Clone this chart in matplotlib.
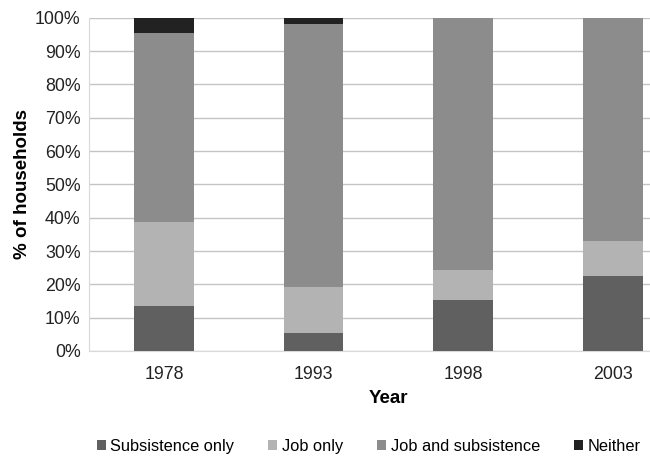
import matplotlib
matplotlib.use("Agg")
import matplotlib.pyplot as plt
import numpy as np

plt.rcParams['font.family'] = ['Liberation Sans', 'DejaVu Sans']

years = ['1978', '1993', '1998', '2003']
subsistence_only = [13.6, 5.5, 15.3, 22.6]
job_only = [25.0, 13.6, 9.0, 10.5]
job_and_subsistence = [56.8, 78.9, 75.7, 66.9]
neither = [4.6, 2.0, 0.0, 0.0]

series = [
    ('Subsistence only', subsistence_only, '#606060'),
    ('Job only', job_only, '#b3b3b3'),
    ('Job and subsistence', job_and_subsistence, '#8c8c8c'),
    ('Neither', neither, '#222222'),
]

fig = plt.figure(figsize=(6.5, 4.57), dpi=100)
ax = fig.add_axes([0.137, 0.232, 0.921, 0.729])

x = np.arange(len(years))
bottom = np.zeros(len(years))
for name, vals, col in series:
    ax.bar(x, vals, width=0.4, bottom=bottom, color=col, label=name, zorder=3)
    bottom += np.array(vals)

ax.set_xlim(-0.5, 3.5)
ax.set_ylim(0, 100)
ax.set_yticks(range(0, 101, 10))
ax.set_yticklabels([f'{v}%' for v in range(0, 101, 10)])
ax.set_xticks(x)
ax.set_xticklabels(years)
ax.tick_params(axis='both', length=0, labelsize=12.8, colors='#222222')
ax.tick_params(axis='x', pad=11)
ax.tick_params(axis='y', pad=6)
ax.yaxis.grid(True, color='#c4c4c4', linewidth=1, zorder=0)
for s in ['top', 'right']:
    ax.spines[s].set_visible(False)
ax.spines['left'].set_color('#d9d9d9')
ax.spines['bottom'].set_color('#d9d9d9')

ax.set_xlabel('Year', fontsize=13.5, fontweight='bold', labelpad=5)
ax.set_ylabel('% of households', fontsize=13.5, fontweight='bold', labelpad=3)

fig.legend(loc='center', bbox_to_anchor=(0.567, 0.024), ncol=4, frameon=False,
           fontsize=11.8, handlelength=0.55, handleheight=0.55, handletextpad=0.3,
           columnspacing=2.05)

fig.savefig('out.png', dpi=100)
